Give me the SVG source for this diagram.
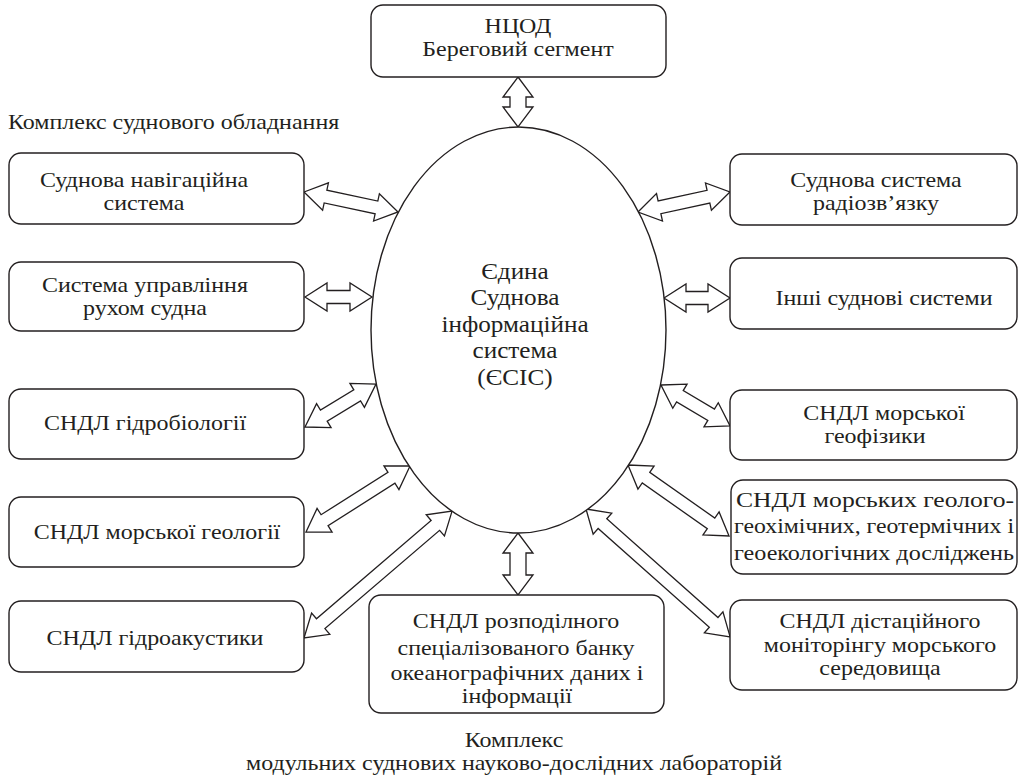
<svg xmlns="http://www.w3.org/2000/svg" width="1021" height="779" viewBox="0 0 1021 779">
<style>
.box{fill:#fff;stroke:#231f20;stroke-width:1.4}
.arr{fill:#fff;stroke:#231f20;stroke-width:1.3;stroke-linejoin:miter}
text{font-family:"Liberation Serif","Times New Roman",serif;fill:#231f20}
.t{font-size:22px;text-anchor:middle}
.c{font-size:24px;text-anchor:middle}
</style>
<rect width="1021" height="779" fill="#fff"/>
<g id="connectors">
<polygon class="arr" transform="translate(518,77) rotate(90)" points="0,0 20,-15 20,-8 30,-8 30,-15 50,0 30,15 30,8 20,8 20,15"/>
<polygon class="arr" transform="translate(518,533) rotate(90)" points="0,0 20,-15 20,-8 42,-8 42,-15 62,0 42,15 42,8 20,8 20,15"/>
<polygon class="arr" transform="translate(304,192) rotate(12)" points="0,0 22,-14 22,-6.5 74.1,-6.5 74.1,-14 96.1,0 74.1,14 74.1,6.5 22,6.5 22,14"/>
<polygon class="arr" transform="translate(305,297)" points="0,0 22,-14 22,-6.5 45,-6.5 45,-14 67,0 45,14 45,6.5 22,6.5 22,14"/>
<polygon class="arr" transform="translate(305,427) rotate(-31.2)" points="0,0 22,-14 22,-6.5 61,-6.5 61,-14 83,0 61,14 61,6.5 22,6.5 22,14"/>
<polygon class="arr" transform="translate(306,532) rotate(-32.4)" points="0,0 22,-14 22,-6.5 101.2,-6.5 101.2,-14 123.2,0 101.2,14 101.2,6.5 22,6.5 22,14"/>
<polygon class="arr" transform="translate(304,638) rotate(-40.6)" points="0,0 22,-14 22,-6.5 173,-6.5 173,-14 195,0 173,14 173,6.5 22,6.5 22,14"/>
<polygon class="arr" transform="translate(638,212) rotate(-12.3)" points="0,0 22,-14 22,-6.5 72.1,-6.5 72.1,-14 94.1,0 72.1,14 72.1,6.5 22,6.5 22,14"/>
<polygon class="arr" transform="translate(664,298)" points="0,0 22,-14 22,-6.5 44,-6.5 44,-14 66,0 44,14 44,6.5 22,6.5 22,14"/>
<polygon class="arr" transform="translate(661,385) rotate(30.7)" points="0,0 22,-14 22,-6.5 58.3,-6.5 58.3,-14 80.3,0 58.3,14 58.3,6.5 22,6.5 22,14"/>
<polygon class="arr" transform="translate(628,465) rotate(35.1)" points="0,0 22,-14 22,-6.5 101.5,-6.5 101.5,-14 123.5,0 101.5,14 101.5,6.5 22,6.5 22,14"/>
<polygon class="arr" transform="translate(586,509) rotate(41.6)" points="0,0 22,-14 22,-6.5 170.7,-6.5 170.7,-14 192.7,0 170.7,14 170.7,6.5 22,6.5 22,14"/>
</g>
<g id="esis">
<ellipse class="box" cx="518.5" cy="330" rx="147.5" ry="203"/>
<text class="c" transform="translate(515,279) scale(1.05,1)">Єдина</text>
<text class="c" transform="translate(515,305) scale(1.05,1)">Суднова</text>
<text class="c" transform="translate(515,332) scale(1.05,1)">інформаційна</text>
<text class="c" transform="translate(515,358) scale(1.05,1)">система</text>
<text class="c" transform="translate(515,385) scale(1.05,1)">(ЄСІС)</text>
</g>
<g id="ncod">
<rect class="box" x="371" y="5" width="295" height="72" rx="12"/>
<text class="t" transform="translate(518,33) scale(1.09,1)">НЦОД</text>
<text class="t" transform="translate(518,56) scale(1.09,1)">Береговий сегмент</text>
</g>
<g id="title-ship">
<text transform="translate(8,129) scale(1.09,1)" style="font-size:22px">Комплекс суднового обладнання</text>
</g>
<g id="nav">
<rect class="box" x="9" y="153" width="295" height="71" rx="12"/>
<text class="t" transform="translate(144,187) scale(1.09,1)">Суднова навігаційна</text>
<text class="t" transform="translate(144,210) scale(1.09,1)">система</text>
</g>
<g id="control">
<rect class="box" x="9" y="262" width="295" height="69" rx="12"/>
<text class="t" transform="translate(145,292) scale(1.09,1)">Система управління</text>
<text class="t" transform="translate(145,315) scale(1.09,1)">рухом судна</text>
</g>
<g id="hydrobio">
<rect class="box" x="9" y="389" width="295" height="70" rx="12"/>
<text class="t" transform="translate(145,430) scale(1.09,1)">СНДЛ гідробіології</text>
</g>
<g id="geology">
<rect class="box" x="9" y="497" width="295" height="70" rx="12"/>
<text class="t" transform="translate(157,539) scale(1.09,1)">СНДЛ морської геології</text>
</g>
<g id="acoustics">
<rect class="box" x="9" y="601" width="295" height="71" rx="12"/>
<text class="t" transform="translate(155,645) scale(1.09,1)">СНДЛ гідроакустики</text>
</g>
<g id="radio">
<rect class="box" x="730" y="154" width="287" height="71" rx="12"/>
<text class="t" transform="translate(876,187) scale(1.09,1)">Суднова система</text>
<text class="t" transform="translate(876,210) scale(1.09,1)">радіозв’язку</text>
</g>
<g id="other">
<rect class="box" x="730" y="258" width="287" height="71" rx="12"/>
<text class="t" transform="translate(884,305) scale(1.09,1)">Інші суднові системи</text>
</g>
<g id="geophys">
<rect class="box" x="730" y="390" width="287" height="70" rx="12"/>
<text class="t" transform="translate(884,420) scale(1.09,1)">СНДЛ морської</text>
<text class="t" transform="translate(875,443) scale(1.09,1)">геофізики</text>
</g>
<g id="geochem">
<rect class="box" x="731" y="480" width="286" height="94" rx="12"/>
<text class="t" x="875" y="507" textLength="278" lengthAdjust="spacingAndGlyphs">СНДЛ морських геолого-</text>
<text class="t" x="874" y="533" textLength="280" lengthAdjust="spacingAndGlyphs">геохімічних, геотермічних і</text>
<text class="t" x="874" y="560" textLength="280" lengthAdjust="spacingAndGlyphs">геоекологічних досліджень</text>
</g>
<g id="monitoring">
<rect class="box" x="730" y="600" width="287" height="90" rx="12"/>
<text class="t" transform="translate(880,628) scale(1.09,1)">СНДЛ дістаційного</text>
<text class="t" transform="translate(880,652) scale(1.09,1)">моніторінгу морського</text>
<text class="t" transform="translate(880,675) scale(1.09,1)">середовища</text>
</g>
<g id="databank">
<rect class="box" x="369" y="595" width="295" height="118" rx="12"/>
<text class="t" transform="translate(516,628) scale(1.09,1)">СНДЛ розподілного</text>
<text class="t" transform="translate(516,655) scale(1.09,1)">спеціалізованого банку</text>
<text class="t" transform="translate(517,680) scale(1.09,1)">океанографічних даних і</text>
<text class="t" transform="translate(517,703) scale(1.09,1)">інформації</text>
</g>
<g id="title-labs">
<text class="t" transform="translate(514,747) scale(1.09,1)">Комплекс</text>
<text class="t" transform="translate(514,770) scale(1.09,1)">модульних суднових науково-дослідних лабораторій</text>
</g>
</svg>
